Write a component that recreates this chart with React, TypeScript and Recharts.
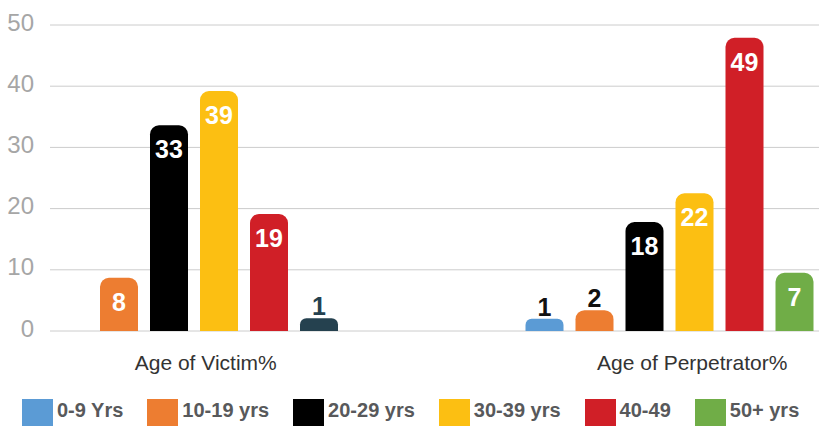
import React from "react";
import { BarChart, Bar, XAxis, YAxis, CartesianGrid, Legend, LabelList, Cell } from "recharts";

const categories = ["Age of Victim%", "Age of Perpetrator%"];
const seriesNames = ["0-9 Yrs", "10-19 yrs", "20-29 yrs", "30-39 yrs", "40-49", "50+ yrs"];

// bar heights as drawn
const age0to9 = [0, 2.0];
const age10to19 = [8.7, 3.4];
const age20to29 = [33.6, 17.8];
const age30to39 = [39.2, 22.5];
const age40to49 = [19.1, 47.9];
const age50plus = [2.1, 9.5];

// printed labels
const labels0to9 = ["", "1"];
const labels10to19 = ["8", "2"];
const labels20to29 = ["33", "18"];
const labels30to39 = ["39", "22"];
const labels40to49 = ["19", "49"];
const labels50plus = ["1", "7"];

const yTicks = [0, 10, 20, 30, 40, 50];

const COLORS = ["#5b9bd5", "#ed7d31", "#000000", "#fcbf12", "#d01f27", "#70ad47"];
const SLATE = "#25414f";

const values = [age0to9, age10to19, age20to29, age30to39, age40to49, age50plus];
const labels = [labels0to9, labels10to19, labels20to29, labels30to39, labels40to49, labels50plus];

const data = categories.map((name, i) => {
  const row: any = { name };
  values.forEach((v, k) => {
    row[`s${k}`] = v[i];
    row[`l${k}`] = labels[k][i];
  });
  return row;
});

const SANS = "'Liberation Sans', Arial, Helvetica, sans-serif";
const TICK_SHIFT = [12, 23];

const CategoryTick = (props: any) => {
  const { x, y, payload } = props;
  const idx = categories.indexOf(payload.value);
  return (
    <text x={x + (TICK_SHIFT[idx] ?? 0)} y={y} dy={31} textAnchor="middle" fill="#333333" fontSize={21} fontFamily={SANS}>
      {payload.value}
    </text>
  );
};

const makeLabel = (k: number) => (props: any) => {
  const vb = props.viewBox || props;
  const x = vb.x ?? props.x;
  const y = vb.y ?? props.y;
  const width = vb.width ?? props.width;
  const height = vb.height ?? props.height;
  const value = props.value;
  if (!value) return null;
  const inside = height > 30;
  const isSlate = k === 5 && props.index === 0;
  const fill = inside ? "#ffffff" : isSlate ? SLATE : "#111111";
  return (
    <text
      x={x + width / 2}
      y={inside ? y + 33 : y - 3}
      textAnchor="middle"
      fill={fill}
      fontSize={25}
      fontWeight="bold"
      fontFamily={SANS}
    >
      {value}
    </text>
  );
};

const LegendContent = (props: any) => {
  const payload = props.payload && props.payload.length ? props.payload : seriesNames.map((n, i) => ({ value: n, color: COLORS[i] }));
  return (
    <div style={{ display: "flex", height: 27, paddingLeft: 22, alignItems: "center", boxSizing: "border-box" }}>
      {payload.map((p: any, i: number) => (
        <div key={i} style={{ display: "flex", alignItems: "center", marginRight: 24, height: 27 }}>
          <div style={{ width: 31, height: 27, background: p.color }} />
          <span
            style={{
              marginLeft: 4,
              fontFamily: SANS,
              fontWeight: "bold",
              fontSize: 20,
              color: "#58595b",
              position: "relative",
              top: -2,
              whiteSpace: "nowrap",
            }}
          >
            {p.value}
          </span>
        </div>
      ))}
    </div>
  );
};

export default function App() {
  return (
    <div style={{ position: "absolute", left: 0, top: 0, width: 819, height: 426, background: "#fff" }}>
      <BarChart width={819} height={426} data={data} margin={{ top: 25, right: 0, bottom: 0, left: 0 }} barGap={12}>
        <CartesianGrid vertical={false} stroke="#cccccc" strokeWidth={1} />
        <XAxis
          dataKey="name"
          axisLine={false}
          tickLine={false}
          height={68}
          interval={0}
          padding={{ left: -94, right: -88 }}
          tick={<CategoryTick />}
        />
        <YAxis
          domain={[0, 50]}
          ticks={yTicks}
          axisLine={false}
          tickLine={false}
          width={50}
          tickMargin={10}
          tick={{ fontSize: 24, fill: "#a6a6a6", fontFamily: SANS, dy: -3 }}
        />
        <Legend verticalAlign="bottom" align="left" content={<LegendContent />} wrapperStyle={{ left: 0 }} />
        {seriesNames.map((name, k) => (
          <Bar
            key={name}
            dataKey={`s${k}`}
            name={name}
            fill={COLORS[k]}
            barSize={38}
            radius={[9, 9, 0, 0]}
            isAnimationActive={false}
          >
            {k === 5 && data.map((_, i) => <Cell key={i} fill={i === 0 ? SLATE : COLORS[5]} />)}
            <LabelList dataKey={`l${k}`} content={makeLabel(k)} />
          </Bar>
        ))}
      </BarChart>
    </div>
  );
}
